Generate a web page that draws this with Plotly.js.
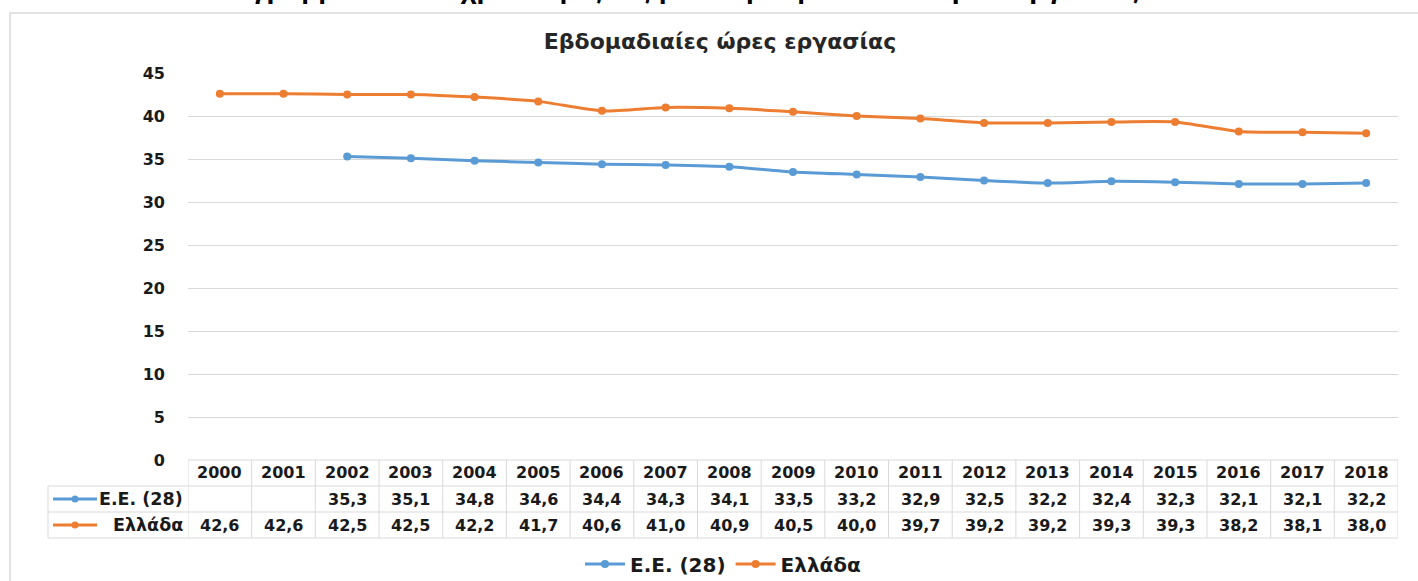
<!DOCTYPE html>
<html>
<head>
<meta charset="utf-8">
<script src="https://cdn.plot.ly/plotly-3.0.1.min.js"></script>
<style>html,body{margin:0;padding:0;background:#fff;}#chart{width:1418px;height:581px;}</style>
</head>
<body>
<div id="chart"></div>
<script>
const years = ['2000','2001','2002','2003','2004','2005','2006','2007','2008','2009','2010','2011','2012','2013','2014','2015','2016','2017','2018'];
const euHours = [null,null,35.3,35.1,34.8,34.6,34.4,34.3,34.1,33.5,33.2,32.9,32.5,32.2,32.4,32.3,32.1,32.1,32.2];
const grHours = [42.6,42.6,42.5,42.5,42.2,41.7,40.6,41.0,40.9,40.5,40.0,39.7,39.2,39.2,39.3,39.3,38.2,38.1,38.0];
const seriesNames = ['Ε.Ε. (28)','Ελλάδα'];
const seriesColors = ['#5b9bd5','#ed7d31'];
const yTicks = [0,5,10,15,20,25,30,35,40,45];
const chartTitle = 'Εβδομαδιαίες ώρες εργασίας';
const figureTitle = 'Διάγραμμα 6.1: Διαχρονική εξέλιξη των εβδομαδιαίων ωρών εργασίας';

const W = 1418, H = 581, L = 188, R = 20, T = 73, B = 121;
const PW = W - L - R, PH = H - T - B;
const px = p => (p - L) / PW;
const py = p => (H - B - p) / PH;
const fmt = v => v == null ? '' : v.toFixed(1).replace('.', ',');
const grid = '#d9d9d9';
const txtFont = {family: 'DejaVu Sans', size: 16, color: '#1a1a1a', weight: 'bold'};
const lblFont = {family: 'DejaVu Sans', size: 17.5, color: '#1a1a1a', weight: 'bold'};

const series = [euHours, grHours];
const traces = series.map((vals, k) => ({
  type: 'scatter', mode: 'lines+markers', x: years, y: vals, name: seriesNames[k],
  line: {color: seriesColors[k], width: 3, shape: 'spline', smoothing: 0.6},
  marker: {color: seriesColors[k], size: 8},
  connectgaps: false, hoverinfo: 'skip'
}));

const rowTop = [460, 486, 512, 538];
const shapes = [];
const annotations = [];
shapes.push({type:'line', xref:'paper', yref:'paper', x0:px(188), x1:px(1398), y0:py(rowTop[0]), y1:py(rowTop[0]), line:{color:grid, width:1}});
for (let r = 1; r < 4; r++) {
  shapes.push({type:'line', xref:'paper', yref:'paper', x0:px(48), x1:px(1398), y0:py(rowTop[r]), y1:py(rowTop[r]), line:{color:grid, width:1}});
}
shapes.push({type:'line', xref:'paper', yref:'paper', x0:px(48), x1:px(48), y0:py(486), y1:py(538), line:{color:grid, width:1}});
for (let i = 0; i <= years.length; i++) {
  shapes.push({type:'line', xref:'x', yref:'paper', x0:i-0.5, x1:i-0.5, y0:py(460), y1:py(538), line:{color:grid, width:1}});
}
shapes.push({type:'rect', xref:'paper', yref:'paper', x0:px(10), x1:px(1430), y0:py(13), y1:py(600), line:{color:grid, width:1.5}, fillcolor:'rgba(0,0,0,0)', layer:'below'});

years.forEach((y, i) => annotations.push({xref:'x', yref:'paper', x:i, y:py(473), text:y, showarrow:false, font:txtFont, xanchor:'center', yanchor:'middle'}));
series.forEach((vals, k) => {
  const ypix = (rowTop[k+1] + rowTop[k+2]) / 2;
  const yc = py(ypix);
  vals.forEach((v, i) => {
    if (v != null) annotations.push({xref:'x', yref:'paper', x:i, y:yc, text:fmt(v), showarrow:false, font:txtFont, xanchor:'center', yanchor:'middle'});
  });
  annotations.push({xref:'paper', yref:'paper', x:px(185), y:yc, text:seriesNames[k], showarrow:false, font:lblFont, xanchor:'right', yanchor:'middle'});
  shapes.push({type:'line', xref:'paper', yref:'paper', x0:px(53), x1:px(97), y0:py(ypix), y1:py(ypix), line:{color:seriesColors[k], width:3}});
  shapes.push({type:'circle', xref:'paper', yref:'paper', x0:px(71.5), x1:px(78.5), y0:py(ypix+3.5), y1:py(ypix-3.5), line:{color:seriesColors[k], width:0}, fillcolor:seriesColors[k]});
});
annotations.push({xref:'paper', yref:'paper', x:px(672), y:py(6), text:figureTitle, showarrow:false, xanchor:'center', yanchor:'bottom', font:{family:'Liberation Sans', size:28, color:'#000', weight:'bold'}});

const layout = {
  width: W, height: H,
  margin: {l: L, r: R, t: T, b: B, pad: 0, autoexpand: false},
  paper_bgcolor: '#fff', plot_bgcolor: '#fff',
  title: {text: chartTitle, x: 720/W, xanchor: 'center', xref: 'container', y: 1 - 41/H, yanchor: 'middle', yref: 'container',
          font: {family: 'DejaVu Sans', size: 22, color: '#262626', weight: 'bold'}},
  xaxis: {type: 'category', range: [-0.5, 18.5], showticklabels: false, showgrid: false, zeroline: false, showline: false, ticks: '', fixedrange: true},
  yaxis: {range: [0, 45], tickvals: yTicks, ticktext: yTicks.map(String), showgrid: true, gridcolor: grid, gridwidth: 1,
          zeroline: false, showline: false, ticks: '', ticklabelstandoff: 22,
          tickfont: {family: 'DejaVu Sans', size: 16, color: '#1a1a1a', weight: 'bold'}, fixedrange: true},
  showlegend: true,
  legend: {orientation: 'h', x: px(723), xanchor: 'center', y: py(564), yanchor: 'middle',
           font: {family: 'DejaVu Sans', size: 20, color: '#1a1a1a', weight: 'bold'}, itemwidth: 40, traceorder: 'normal'},
  shapes: shapes, annotations: annotations
};
Plotly.newPlot('chart', traces, layout, {displayModeBar: false, staticPlot: true});
</script>
</body>
</html>
